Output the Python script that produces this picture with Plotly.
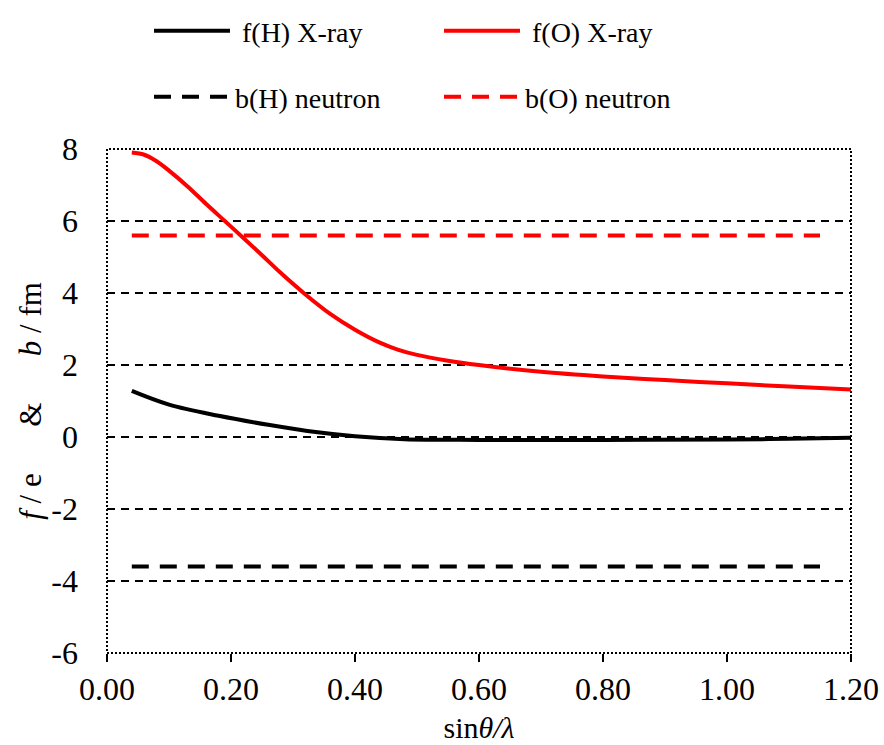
import plotly.graph_objects as go

# f(O) X-ray scattering factor
x_fO = [0.04, 0.06, 0.08, 0.10, 0.13, 0.16, 0.19, 0.22, 0.25, 0.28, 0.32, 0.36,
        0.40, 0.44, 0.47, 0.50, 0.55, 0.60, 0.70, 0.80, 0.90, 1.00, 1.10, 1.20]
y_fO = [7.90, 7.84, 7.66, 7.40, 6.96, 6.47, 6.00, 5.53, 5.05, 4.56, 3.96, 3.42,
        2.98, 2.62, 2.42, 2.28, 2.12, 2.00, 1.81, 1.68, 1.58, 1.49, 1.40, 1.32]

# f(H) X-ray scattering factor
x_fH = [0.04, 0.10, 0.18, 0.26, 0.34, 0.40, 0.48, 0.60, 0.80, 1.00, 1.10, 1.20]
y_fH = [1.28, 0.90, 0.59, 0.34, 0.13, 0.02, -0.06, -0.08, -0.08, -0.07, -0.05, -0.02]

# neutron scattering lengths
x_b = [0.04, 1.15]
y_bH = [-3.6, -3.6]
y_bO = [5.6, 5.6]

x_ticks = [0.0, 0.2, 0.4, 0.6, 0.8, 1.0, 1.2]
y_ticks = [-6, -4, -2, 0, 2, 4, 6, 8]
y_ticktext = ["-6", "-4", "-2", "0", "2", "4", "6", "8"]

FONT = "Liberation Serif, Times New Roman, serif"
NB = "\u00a0"

fig = go.Figure()
fig.add_trace(go.Scatter(x=x_fH, y=y_fH, mode="lines", name=NB + "f(H) X-ray",
                         line=dict(color="black", width=4, shape="spline"),
                         legend="legend"))
fig.add_trace(go.Scatter(x=x_fO, y=y_fO, mode="lines", name=NB + "f(O) X-ray",
                         line=dict(color="#ff0000", width=4, shape="spline"),
                         legend="legend"))
fig.add_trace(go.Scatter(x=x_b, y=y_bH, mode="lines", name="b(H) neutron",
                         line=dict(color="black", width=4, dash="17px,11px"),
                         legend="legend2"))
fig.add_trace(go.Scatter(x=x_b, y=y_bO, mode="lines", name="b(O) neutron",
                         line=dict(color="#ff0000", width=4, dash="17px,11px"),
                         legend="legend2"))

# dotted plot frame
fig.add_shape(type="rect", xref="paper", yref="paper", x0=0, y0=0, x1=1, y1=1,
              line=dict(color="black", width=2, dash="2px,2px"), layer="above")

legend_common = dict(orientation="h", xanchor="left", yanchor="middle",
                     xref="paper", yref="container",
                     font=dict(family=FONT, size=28, color="black"),
                     bgcolor="rgba(0,0,0,0)", itemwidth=76, entrywidth=199,
                     entrywidthmode="pixels", itemclick=False)

SP = NB * 6
W, H = 884, 745

fig.update_layout(
    width=W, height=H,
    margin=dict(l=107, r=33, t=149, b=92),
    paper_bgcolor="white", plot_bgcolor="white",
    font=dict(family=FONT, size=32, color="black"),
    showlegend=True,
    legend=dict(x=(149 - 107) / 744, y=1 - 31 / H, **legend_common),
    legend2=dict(x=(149 - 107) / 744, y=1 - 97 / H, **legend_common),
    xaxis=dict(range=[0, 1.2], tickvals=x_ticks, tickformat=".2f",
               automargin=False,
               showgrid=False, zeroline=False, showline=False,
               ticks="outside", ticklen=8, tickwidth=1.5, tickcolor="black",
               tickfont=dict(family=FONT, size=32),
               title=dict(text="sin<i>θ/λ</i>", font=dict(family=FONT, size=30),
                          standoff=10)),
    yaxis=dict(range=[-6, 8], tickvals=y_ticks, ticktext=y_ticktext,
               automargin=False,
               showgrid=True, gridcolor="black", gridwidth=1.5, griddash="8px,6px",
               zeroline=False, showline=False,
               ticks="inside", ticklen=4, tickwidth=1.5, tickcolor="black",
               ticklabelstandoff=28,
               tickfont=dict(family=FONT, size=32),
               title=dict(text="<i>f</i> / e" + SP + "&amp;" + SP + "<i>b</i> / fm",
                          font=dict(family=FONT, size=31), standoff=0)),
    hovermode=False,
)

fig.write_html("out.html",
               config={"displayModeBar": False},
               post_script="document.body.style.margin='0';"
                           "document.body.style.overflow='hidden';")
